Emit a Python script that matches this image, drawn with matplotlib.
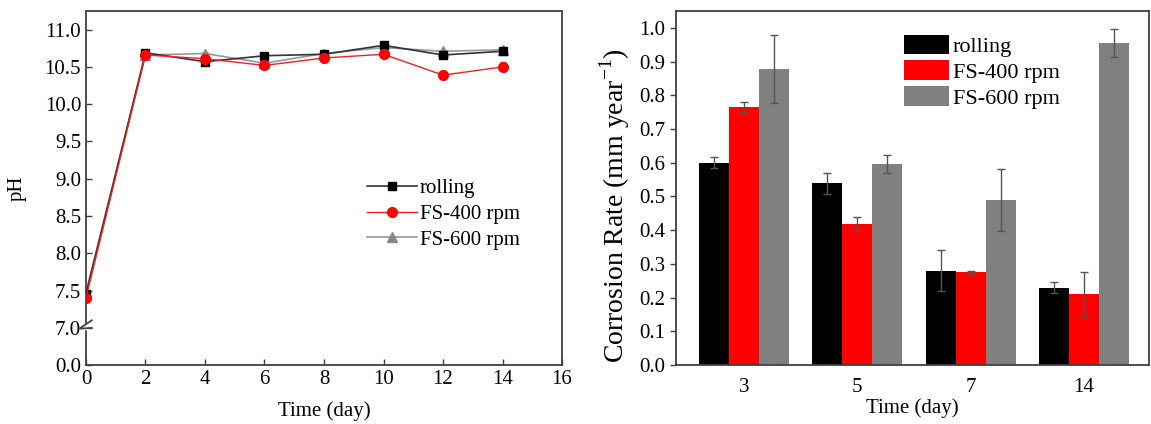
import numpy as np
import matplotlib
matplotlib.use("Agg")
import matplotlib.pyplot as plt
from matplotlib.patches import Patch
from matplotlib.lines import Line2D

# ---- data: pH vs time ----
days = [0, 2, 4, 6, 8, 10, 12, 14]
ph_rolling = [7.45, 10.69, 10.57, 10.65, 10.67, 10.79, 10.66, 10.71]
ph_fs400 = [7.40, 10.66, 10.61, 10.52, 10.62, 10.67, 10.39, 10.50]
ph_fs600 = [7.48, 10.66, 10.68, 10.55, 10.68, 10.76, 10.71, 10.73]
ph_rolling_err = [0.03, 0.03, 0.02, 0.02, 0.02, 0.02, 0.02, 0.02]
ph_fs400_err = [0.04, 0.06, 0.03, 0.03, 0.02, 0.02, 0.05, 0.06]
ph_fs600_err = [0.03, 0.03, 0.02, 0.02, 0.02, 0.02, 0.02, 0.02]
ph_yticks = [0.0, 7.0, 7.5, 8.0, 8.5, 9.0, 9.5, 10.0, 10.5, 11.0]
ph_xticks = [0, 2, 4, 6, 8, 10, 12, 14, 16]

# ---- data: corrosion rate ----
groups = ["3", "5", "7", "14"]
cr_rolling = [0.600, 0.539, 0.280, 0.230]
cr_fs400 = [0.766, 0.418, 0.275, 0.211]
cr_fs600 = [0.878, 0.596, 0.490, 0.955]
cr_rolling_err = [0.017, 0.031, 0.061, 0.017]
cr_fs400_err = [0.015, 0.021, 0.005, 0.066]
cr_fs600_err = [0.101, 0.026, 0.091, 0.042]
cr_yticks = [0.0, 0.1, 0.2, 0.3, 0.4, 0.5, 0.6, 0.7, 0.8, 0.9, 1.0]
series_names = ["rolling", "FS-400 rpm", "FS-600 rpm"]

plt.rcParams['font.family'] = ['Liberation Serif', 'DejaVu Serif']
plt.rcParams['mathtext.fontset'] = 'custom'
plt.rcParams['mathtext.rm'] = 'Liberation Serif'

fig = plt.figure(figsize=(11.51, 4.24), dpi=100)
spine_col = '#404040'
TICK_FS = 15

# ---------- left: pH ----------
ax1 = fig.add_axes([0.0747, 0.139, 0.4136, 0.835])


def fwd(y):
    y = np.asarray(y, dtype=float)
    return np.where(y >= 7.0, y, 6.5 + y * 0.5 / 7.0)


def inv(v):
    v = np.asarray(v, dtype=float)
    return np.where(v >= 7.0, v, (v - 6.5) * 14.0)


ax1.set_yscale('function', functions=(fwd, inv))

styles = [
    dict(color='#333333', lw=1.2, marker='s', ms=6, mfc='black', mec='black'),
    dict(color='#ee2222', lw=1.0, marker='o', ms=7, mfc='red', mec='red'),
    dict(color='#999999', lw=1.2, marker='^', ms=7, mfc='#888888', mec='#888888'),
]
ecols = ['#555555', '#ee4444', '#999999']
zs = [3, 4, 2]
for vals, errs, st, ec, z in zip([ph_rolling, ph_fs400, ph_fs600],
                                 [ph_rolling_err, ph_fs400_err, ph_fs600_err],
                                 styles, ecols, zs):
    ax1.errorbar(days, vals, yerr=errs, ecolor=ec, capsize=2, elinewidth=0.8,
                 zorder=z, **st)

ax1.set_xlim(0, 16)
ax1.set_ylim(0.0, 11.25)
ax1.set_yticks(ph_yticks)
ax1.set_yticklabels([f"{v:.1f}" for v in ph_yticks])
ax1.set_xticks(ph_xticks)
ax1.tick_params(direction='in', length=4, width=1, colors=spine_col,
                labelsize=TICK_FS, labelcolor='black')
ax1.tick_params(axis='y', which='minor', left=False)
ax1.set_xlabel("Time (day)", fontsize=15, labelpad=9)
ax1.set_ylabel("pH", fontsize=15, labelpad=13)
for s in ax1.spines.values():
    s.set_color(spine_col)
    s.set_linewidth(1.3)

# break marks on the left spine at 7.0
yb = fwd(7.0)
trans = ax1.get_yaxis_transform()
for dy in (-0.06, 0.06):
    ax1.plot([-0.012, 0.012], [yb - 0.10 + dy, yb + 0.04 + dy], transform=trans,
             color=spine_col, lw=1.3, clip_on=False, zorder=6)
ax1.plot([0, 0], [yb - 0.02, yb + 0.03], transform=trans, color='white',
         lw=2.5, clip_on=False, zorder=5)

leg_handles1 = [Line2D([], [], **st) for st in styles]
ax1.legend(leg_handles1, series_names, loc='upper left',
           bbox_to_anchor=(0.55, 0.58), frameon=False,
           fontsize=15, handlelength=2.4, labelspacing=0.3,
           handletextpad=0.15)

# ---------- right: corrosion rate ----------
ax2 = fig.add_axes([0.5873, 0.139, 0.411, 0.835])
x = np.arange(len(groups))
w = 0.265
ekw = dict(ecolor='#555555', elinewidth=1.0, capsize=3, capthick=1.0)
ax2.bar(x - w, cr_rolling, w, color='black', yerr=cr_rolling_err,
        error_kw=ekw, label=series_names[0])
ax2.bar(x, cr_fs400, w, color='#ff0000', yerr=cr_fs400_err,
        error_kw=ekw, label=series_names[1])
ax2.bar(x + w, cr_fs600, w, color='#808080', yerr=cr_fs600_err,
        error_kw=ekw, label=series_names[2])
ax2.set_xlim(-0.6, 3.575)
ax2.set_ylim(0, 1.05)
ax2.set_yticks(cr_yticks)
ax2.set_yticklabels([f"{v:.1f}" for v in cr_yticks])
ax2.set_xticks(x)
ax2.set_xticklabels(groups)
ax2.tick_params(axis='y', direction='out', length=4, width=1, colors=spine_col,
                labelsize=TICK_FS, labelcolor='black')
ax2.tick_params(axis='x', length=0, labelsize=TICK_FS, pad=9)
ax2.set_xlabel("Time (day)", fontsize=15, labelpad=1)
ax2.set_ylabel("Corrosion Rate (mm year$^{-1}$)", fontsize=20)
ax2.yaxis.set_label_coords(-0.094, 0.45)
for s in ax2.spines.values():
    s.set_color(spine_col)
    s.set_linewidth(1.3)

handles = [Patch(facecolor=c) for c in ('black', '#ff0000', '#808080')]
ax2.legend(handles, series_names, loc='upper left', bbox_to_anchor=(0.44, 0.99),
           frameon=False, fontsize=16, handlelength=2.0, handleheight=1.0,
           labelspacing=0.15, handletextpad=0.2)

fig.savefig("out.png", dpi=100)
